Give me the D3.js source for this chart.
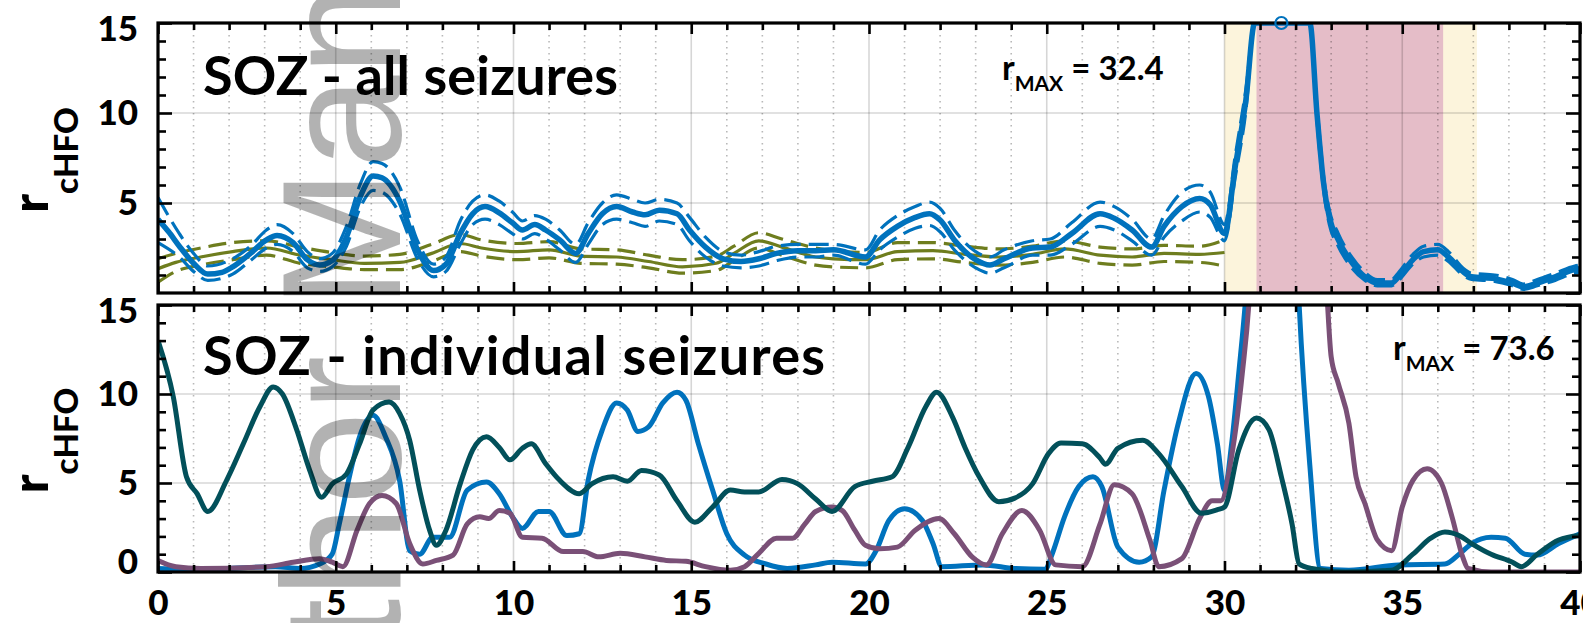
<!DOCTYPE html>
<html>
<head>
<meta charset="utf-8">
<script src="https://cdn.jsdelivr.net/npm/d3@7"></script>
<style>
  body { margin: 0; background: #fff; }
  svg { display: block; }
  text { font-family: Lato, "Open Sans", sans-serif; font-weight: bold; }
</style>
</head>
<body>
<svg id="chart" width="1583" height="623"></svg>
<script>
// ---- data (time in s, rate r_cHFO) ----
const xTicks = [0, 5, 10, 15, 20, 25, 30, 35, 40];
const yTicksTop = [5, 10, 15];
const yTicksBottom = [0, 5, 10, 15];

// top panel: SOZ mean over all seizures (blue) with CI, and reference (olive) with CI
const allMean = [[0,4.1],[0.3,3.4],[0.6,2.6],[1.0,1.65],[1.4,1.05],[1.8,1.15],[2.1,1.45],[2.6,2.2],[3.05,2.95],[3.35,3.2],[3.8,2.8],[4.2,1.85],[4.55,1.55],[4.9,1.8],[5.3,3.1],[5.7,5.4],[6.05,6.5],[6.3,6.4],[6.8,5.1],[7.3,2.4],[7.75,1.25],[8.1,1.6],[8.5,3.3],[8.85,4.4],[9.2,4.8],[9.6,4.45],[9.97,3.9],[10.25,3.5],[10.6,3.8],[10.9,3.5],[11.3,2.95],[11.75,2.2],[12.1,3.3],[12.5,4.4],[12.9,4.8],[13.35,4.5],[13.7,4.35],[14.1,4.6],[14.6,4.4],[14.95,3.5],[15.4,2.55],[15.9,1.9],[16.4,1.75],[16.9,1.9],[17.4,2.2],[18.0,2.35],[18.5,2.35],[19.0,2.4],[19.9,2.0],[20.3,2.95],[20.8,3.7],[21.3,4.2],[21.7,4.4],[22.0,4.05],[22.4,2.95],[23.0,1.85],[23.4,1.55],[23.8,1.9],[24.6,2.5],[25.1,2.55],[25.7,3.3],[26.5,4.4],[26.9,4.15],[27.4,3.5],[27.95,2.55],[28.3,3.7],[28.8,4.8],[29.3,5.25],[29.6,4.9],[30.0,3.3],[30.3,7.0],[30.6,10.7],[30.85,16],[31.2,24],[31.6,32.4],[32.0,26],[32.4,16],[32.6,10],[32.8,5.9],[32.95,4.2],[33.2,2.95],[33.6,1.65],[33.95,0.9],[34.3,0.55],[34.7,0.55],[34.9,0.9],[35.3,1.85],[35.6,2.3],[36.0,2.4],[36.3,2.0],[36.7,1.2],[36.95,0.9],[37.6,0.8],[38.1,0.55],[38.4,0.35],[38.8,0.55],[39.3,0.9],[39.85,1.3],[40,1.35]];
const allUpper = [[0,5.3],[0.6,3.3],[1.0,2.2],[1.4,1.5],[2.1,1.9],[2.6,2.6],[3.05,3.5],[3.35,3.8],[3.8,3.3],[4.2,2.3],[4.55,1.9],[4.9,2.2],[5.3,3.7],[5.7,6.1],[6.05,7.3],[6.3,7.2],[6.8,5.9],[7.3,2.9],[7.75,1.6],[8.1,2.0],[8.5,4.0],[8.85,5.1],[9.2,5.45],[9.6,5.1],[9.97,4.5],[10.25,4.0],[10.6,4.3],[10.9,4.1],[11.3,3.5],[11.75,2.7],[12.1,3.9],[12.5,5.0],[12.9,5.45],[13.35,5.2],[13.7,5.0],[14.1,5.2],[14.6,5.0],[14.95,4.2],[15.4,3.1],[15.9,2.3],[16.4,2.1],[16.9,2.3],[17.4,2.6],[18.0,2.7],[18.5,2.7],[19.0,2.7],[19.9,2.4],[20.3,3.5],[20.8,4.3],[21.3,4.8],[21.7,5.05],[22.0,4.7],[22.4,3.5],[23.0,2.3],[23.4,2.0],[23.8,2.4],[24.6,2.9],[25.1,3.0],[25.7,3.9],[26.5,5.05],[26.9,4.8],[27.4,4.1],[27.95,3.0],[28.3,4.3],[28.8,5.6],[29.3,6.0],[29.6,5.6],[30.0,3.8],[30.3,7.6],[30.6,11.3],[30.85,16],[31.6,33],[32.4,16],[32.6,10.4],[32.8,6.3],[32.95,4.6],[33.2,3.3],[33.6,1.95],[33.95,1.15],[34.3,0.75],[34.7,0.75],[34.9,1.15],[35.3,2.15],[35.6,2.6],[36.0,2.7],[36.3,2.3],[36.7,1.4],[36.95,1.1],[37.6,1.0],[38.1,0.75],[38.4,0.5],[38.8,0.75],[39.3,1.1],[39.85,1.5],[40,1.55]];
const allLower = [[0,2.8],[0.6,2.0],[1.0,1.2],[1.4,0.7],[2.1,1.05],[2.6,1.8],[3.05,2.5],[3.35,2.7],[3.8,2.3],[4.2,1.4],[4.55,1.2],[4.9,1.45],[5.3,2.6],[5.7,4.8],[6.05,5.7],[6.3,5.6],[6.8,4.4],[7.3,1.9],[7.75,0.9],[8.1,1.2],[8.5,2.7],[8.85,3.8],[9.2,4.1],[9.6,3.8],[9.97,3.3],[10.25,3.0],[10.6,3.3],[10.9,3.0],[11.3,2.4],[11.75,1.7],[12.1,2.7],[12.5,3.8],[12.9,4.1],[13.35,3.9],[13.7,3.7],[14.1,4.0],[14.6,3.8],[14.95,2.9],[15.4,2.0],[15.9,1.5],[16.4,1.4],[16.9,1.5],[17.4,1.8],[18.0,2.0],[18.5,2.0],[19.0,2.1],[19.9,1.6],[20.3,2.4],[20.8,3.1],[21.3,3.6],[21.7,3.75],[22.0,3.4],[22.4,2.4],[23.0,1.4],[23.4,1.1],[23.8,1.4],[24.6,2.1],[25.1,2.1],[25.7,2.7],[26.5,3.7],[26.9,3.5],[27.4,2.9],[27.95,2.1],[28.3,3.1],[28.8,4.0],[29.3,4.5],[29.6,4.2],[30.0,2.9],[30.3,6.4],[30.6,10.1],[30.85,16],[31.6,31],[32.4,15.5],[32.6,9.6],[32.8,5.5],[32.95,3.8],[33.2,2.6],[33.6,1.35],[33.95,0.7],[34.3,0.4],[34.7,0.4],[34.9,0.7],[35.3,1.6],[35.6,2.0],[36.0,2.1],[36.3,1.75],[36.7,1.0],[36.95,0.75],[37.6,0.65],[38.1,0.4],[38.4,0.2],[38.8,0.4],[39.3,0.7],[39.85,1.1],[40,1.15]];
const refMean = [[0,1.35],[0.5,1.7],[1.2,2.0],[2.1,2.3],[3.05,2.5],[4.0,2.1],[4.9,1.85],[5.8,1.65],[6.8,1.7],[7.7,2.2],[8.5,2.75],[9.1,2.5],[10.1,2.3],[11.0,2.4],[11.9,2.05],[12.9,2.0],[13.8,1.75],[14.75,1.45],[15.7,1.65],[16.2,2.2],[16.9,2.9],[17.55,2.55],[18.5,2.0],[19.0,1.9],[19.9,1.85],[20.8,2.3],[21.8,2.35],[22.7,2.15],[23.65,2.0],[24.6,2.15],[25.5,2.45],[26.5,2.1],[27.4,2.0],[28.3,2.2],[29.3,2.15],[30,2.25]];
const refUpper = [[0,1.9],[0.5,2.2],[1.2,2.5],[2.1,2.8],[3.05,2.9],[4.0,2.55],[4.9,2.25],[5.8,2.05],[6.8,2.15],[7.7,2.7],[8.5,3.25],[9.1,2.95],[10.1,2.75],[11.0,2.85],[11.9,2.45],[12.9,2.4],[13.8,2.1],[14.75,1.85],[15.7,2.05],[16.2,2.6],[16.9,3.35],[17.55,3.0],[18.5,2.5],[19.0,2.35],[19.9,2.25],[20.8,2.8],[21.8,2.8],[22.7,2.6],[23.65,2.45],[24.6,2.6],[25.5,2.9],[26.5,2.55],[27.4,2.45],[28.3,2.65],[29.3,2.6],[30,2.95]];
const refLower = [[0,0.6],[0.5,1.2],[1.2,1.55],[2.1,1.85],[3.05,2.1],[4.0,1.65],[4.9,1.45],[5.8,1.3],[6.8,1.3],[7.7,1.75],[8.5,2.3],[9.1,2.05],[10.1,1.85],[11.0,1.95],[11.9,1.65],[12.9,1.6],[13.8,1.4],[14.75,1.1],[15.7,1.25],[16.2,1.8],[16.9,2.5],[17.55,2.1],[18.5,1.55],[19.0,1.45],[19.9,1.4],[20.8,1.85],[21.8,1.9],[22.7,1.7],[23.65,1.55],[24.6,1.7],[25.5,2.0],[26.5,1.65],[27.4,1.55],[28.3,1.75],[29.3,1.7],[30,1.5]];
const allMaxPoint = [31.6, 32.4];
const yellowBand = [30, 37.1];
const pinkBand = [30.9, 36.15];

// bottom panel: individual seizures
const seizureA = [[0,0.2],[1.2,0.15],[3.3,0.3],[4.0,0.2],[4.55,0.45],[4.9,1.0],[5.1,2.7],[5.4,5.5],[5.67,7.6],[6.05,8.8],[6.4,7.6],[6.8,5.1],[7.08,1.2],[7.36,1.0],[7.73,1.95],[8.2,1.95],[8.7,4.6],[9.24,5.05],[9.6,4.4],[9.97,3.1],[10.25,2.45],[10.7,3.4],[11.0,3.4],[11.5,2.05],[11.85,2.15],[12.1,5.15],[12.5,8.0],[12.9,9.5],[13.2,9.1],[13.5,7.9],[13.8,8.15],[14.2,9.5],[14.6,10.1],[14.85,9.65],[15.2,7.2],[15.6,4.6],[16.0,2.15],[16.5,0.95],[17.1,0.45],[17.7,0.2],[18.5,0.4],[18.96,0.55],[19.9,0.45],[20.2,1.2],[20.56,2.9],[21.0,3.55],[21.5,2.9],[21.8,1.6],[22.05,0.3],[23.2,0.4],[24.1,0.2],[24.96,0.15],[25.15,1.0],[25.5,3.1],[25.9,4.8],[26.3,5.35],[26.55,4.8],[27.0,1.4],[27.6,0.55],[27.95,0.85],[28.3,4.6],[28.7,8.35],[29.2,11.15],[29.55,9.85],[29.8,7.2],[30.0,4.6],[30.2,7.2],[30.4,11.15],[30.6,15.5],[31.0,30],[31.4,40],[31.8,30],[32.1,15],[32.4,6],[32.7,0.2],[33.5,0.1],[34.9,0.4],[36.2,0.45],[36.6,1.0],[36.95,1.6],[37.5,1.95],[37.9,1.9],[38.45,1.0],[38.8,0.95],[39.4,1.6],[40,2.15]];
const seizureB = [[0,0.65],[0.5,0.3],[1.2,0.2],[3.05,0.3],[3.8,0.55],[4.55,0.75],[4.9,0.55],[5.2,0.3],[5.6,2.35],[5.95,3.85],[6.3,4.3],[6.7,3.85],[7.08,1.6],[7.45,0.45],[7.83,0.65],[8.3,0.95],[8.7,2.7],[9.05,3.1],[9.3,3.0],[9.6,3.45],[9.9,3.3],[10.25,1.95],[10.8,1.9],[11.4,1.15],[11.95,1.15],[12.4,0.85],[13.0,1.05],[13.7,0.85],[14.3,0.65],[14.85,0.6],[15.4,0.3],[16.1,0.1],[16.5,0.3],[16.9,1.05],[17.4,1.9],[17.85,1.9],[18.2,2.7],[18.5,3.4],[18.96,3.65],[19.25,3.45],[19.6,2.35],[19.9,1.5],[20.3,1.3],[20.8,1.4],[21.3,2.35],[21.97,3.0],[22.4,2.15],[22.9,0.85],[23.3,0.4],[23.75,2.15],[24.3,3.45],[24.8,2.35],[25.25,0.4],[26.0,0.3],[26.5,2.7],[26.9,4.9],[27.4,4.4],[27.9,1.8],[28.15,0.3],[28.8,0.75],[29.3,3.0],[29.65,4.0],[29.9,4.0],[30.2,6.5],[30.5,11.15],[30.7,15.5],[31.2,45],[31.8,73.6],[32.4,45],[32.9,15],[33.0,12.1],[33.2,10.6],[33.5,8.35],[33.7,5.35],[33.95,3.85],[34.3,1.8],[34.7,1.2],[35.0,3.65],[35.3,5.15],[35.7,5.8],[36.1,5.0],[36.4,3.1],[36.7,0.85],[36.85,0.2],[37.5,0],[40,0]];
const seizureC = [[0,13.0],[0.43,9.85],[0.8,5.35],[1.1,4.4],[1.4,3.4],[1.93,5.15],[2.4,7.2],[2.87,9.3],[3.24,10.4],[3.5,10.0],[3.9,8.0],[4.27,5.7],[4.6,4.2],[4.9,4.95],[5.3,5.5],[5.67,7.2],[6.05,9.1],[6.5,9.55],[6.8,8.9],[7.08,7.4],[7.36,4.6],[7.64,2.35],[7.83,1.5],[8.1,2.35],[8.5,4.95],[8.85,6.85],[9.24,7.6],[9.6,7.0],[9.9,6.3],[10.25,6.95],[10.5,7.2],[10.9,6.1],[11.3,5.15],[11.85,4.4],[12.2,4.95],[12.8,5.35],[13.2,5.1],[13.6,5.7],[14.1,5.45],[14.6,4.0],[15.1,2.8],[15.6,3.65],[16.1,4.6],[16.5,4.5],[16.9,4.5],[17.55,5.2],[18.0,4.95],[18.5,4.1],[18.96,3.4],[19.6,4.8],[20.1,5.1],[20.65,5.35],[21.1,7.0],[21.6,9.3],[21.9,10.1],[22.35,8.7],[22.7,7.0],[23.1,5.35],[23.65,3.95],[24.1,4.15],[24.6,4.95],[25.05,6.65],[25.4,7.25],[26.0,7.2],[26.5,6.4],[26.65,6.05],[27.0,6.95],[27.7,7.4],[28.15,6.65],[28.8,4.8],[29.35,3.3],[29.8,3.5],[30.0,3.65],[30.4,6.85],[30.9,8.65],[31.25,8.0],[31.6,5.35],[31.9,2.7],[32.1,0.45],[32.45,0.2],[33.4,0],[34.7,0.1],[35.3,1.0],[35.8,1.9],[36.2,2.25],[36.6,2.05],[36.95,1.6],[37.5,1.0],[38.1,0.55],[38.35,0.3],[38.8,1.0],[39.4,1.8],[40,2.05]];

const topTitle = 'SOZ - all seizures';
const bottomTitle = 'SOZ - individual seizures';
const topMax = '32.4';
const bottomMax = '73.6';

// ---- layout ----
const svg = d3.select('#chart');
const left = 158, right = 1580;
const x = d3.scaleLinear().domain([0, 40]).range([left, right]);
const yTop = d3.scaleLinear().domain([0, 15]).range([293, 23]);
const yBot = d3.scaleLinear().domain([0, 15]).range([572, 305]);

const blue = '#0072bd', olive = '#6e7d1e', teal = '#02505a', purple = '#7a5077';
const minorX = d3.range(0, 41).filter(d => d % 5 !== 0);
const minorY = d3.range(0, 16).filter(d => d % 5 !== 0);
const fontFam = 'Lato, "Open Sans", sans-serif';

function styleAxis(a) {
    a.select('.domain').remove();
    a.selectAll('line').attr('stroke', '#000').attr('stroke-width', 2.6);
    a.selectAll('text').attr('font-size', 35).attr('fill', '#000')
        .style('font-family', fontFam).style('font-weight', 900);
    return a;
}

function panel(y, id, yLabels, xLabels) {
    const g = svg.append('g');
    const [y0, y1] = y.range();

    svg.append('clipPath').attr('id', id)
        .append('rect').attr('x', left).attr('y', y1).attr('width', right - left).attr('height', y0 - y1);

    const back = g.append('g');
    const grid = g.append('g');
    grid.selectAll('.minor').data(minorX).enter().append('line')
        .attr('x1', d => x(d)).attr('x2', d => x(d)).attr('y1', y1).attr('y2', y0)
        .attr('stroke', '#000').attr('stroke-opacity', 0.28).attr('stroke-width', 1.6)
        .attr('stroke-dasharray', '1.6,4.4');
    grid.selectAll('.majx').data(xTicks.slice(1, -1)).enter().append('line')
        .attr('x1', d => x(d)).attr('x2', d => x(d)).attr('y1', y1).attr('y2', y0)
        .attr('stroke', '#000').attr('stroke-opacity', 0.16).attr('stroke-width', 1.6);
    grid.selectAll('.majy').data([5, 10]).enter().append('line')
        .attr('x1', left).attr('x2', right).attr('y1', d => y(d)).attr('y2', d => y(d))
        .attr('stroke', '#000').attr('stroke-opacity', 0.16).attr('stroke-width', 1.6);

    const lines = g.append('g').attr('clip-path', `url(#${id})`);

    // axes: inward ticks, major and minor
    const axes = g.append('g');
    const addAxis = (axis, tx, ty) =>
        styleAxis(axes.append('g').attr('transform', `translate(${tx},${ty})`).call(axis));
    addAxis(d3.axisBottom(x).tickValues(minorX).tickSize(-7).tickFormat(''), 0, y0);
    addAxis(d3.axisTop(x).tickValues(minorX).tickSize(-7).tickFormat(''), 0, y1);
    addAxis(d3.axisTop(x).tickValues(xTicks).tickSize(-11).tickFormat(''), 0, y1);
    const xa = d3.axisBottom(x).tickValues(xTicks).tickSize(-11).tickPadding(18);
    if (!xLabels) xa.tickFormat('');
    addAxis(xa, 0, y0);
    addAxis(d3.axisLeft(y).tickValues(minorY).tickSize(-8).tickFormat(''), left, 0);
    addAxis(d3.axisRight(y).tickValues(minorY).tickSize(-8).tickFormat(''), right, 0);
    addAxis(d3.axisRight(y).tickValues([0, 5, 10, 15]).tickSize(-14).tickFormat(''), right, 0);
    const yl = addAxis(d3.axisLeft(y).tickValues(yLabels).tickSize(-14).tickPadding(20), left, 0);
    yl.selectAll('.tick text').attr('dy', d => d === 15 ? '0.5em' : (d === 0 ? '0.03em' : '0.34em'));

    axes.append('rect').attr('x', left).attr('y', y1).attr('width', right - left).attr('height', y0 - y1)
        .attr('fill', 'none').attr('stroke', '#000').attr('stroke-width', 3.2);

    // y label
    const lab = axes.append('text')
        .attr('transform', `translate(48,${(y0 + y1) / 2 + 2}) rotate(-90)`)
        .attr('text-anchor', 'middle').style('font-weight', 900);
    lab.append('tspan').attr('font-size', 50).text('r');
    lab.append('tspan').attr('font-size', 33).attr('dy', 30).text('cHFO');

    return { g, back, lines, y0, y1 };
}

const makeLine = y => d3.line().x(d => x(d[0])).y(d => y(d[1])).curve(d3.curveMonotoneX);

// ---- top panel ----
const topPanel = panel(yTop, 'clipTop', yTicksTop, false);
topPanel.back.append('rect').attr('x', x(yellowBand[0])).attr('width', x(yellowBand[1]) - x(yellowBand[0]))
    .attr('y', topPanel.y1).attr('height', topPanel.y0 - topPanel.y1).attr('fill', '#fcf4dc');
topPanel.back.append('rect').attr('x', x(pinkBand[0])).attr('width', x(pinkBand[1]) - x(pinkBand[0]))
    .attr('y', topPanel.y1).attr('height', topPanel.y0 - topPanel.y1).attr('fill', '#e5bdc8');

const clampTop = s => s.map(d => [d[0], Math.min(d[1], 15)]);
const topLine = makeLine(yTop);
[[refUpper, olive, 3.2, '18,8'], [refLower, olive, 3.2, '18,8'], [refMean, olive, 3.2, null],
 [allUpper, blue, 3.2, '20,8'], [allLower, blue, 3.2, '20,8'], [allMean, blue, 5.5, null]]
    .forEach(([s, c, w, dash]) => {
        topPanel.lines.append('path').attr('d', topLine(clampTop(s)))
            .attr('fill', 'none').attr('stroke', c).attr('stroke-width', w)
            .attr('stroke-dasharray', dash).attr('stroke-linejoin', 'round');
    });
topPanel.g.append('circle').attr('cx', x(allMaxPoint[0])).attr('cy', yTop(Math.min(allMaxPoint[1], 15)))
    .attr('r', 6).attr('fill', 'none').attr('stroke', blue).attr('stroke-width', 2.2);

// ---- bottom panel ----
const botPanel = panel(yBot, 'clipBot', yTicksBottom, true);
const botLine = makeLine(yBot);
[[seizureA, blue], [seizureB, purple], [seizureC, teal]].forEach(([s, c]) => {
    botPanel.lines.append('path').attr('d', botLine(s))
        .attr('fill', 'none').attr('stroke', c).attr('stroke-width', 5).attr('stroke-linejoin', 'round');
});

// ---- titles ----
svg.append('text').attr('x', 203).attr('y', 95).attr('font-size', 54)
    .attr('textLength', 415).attr('lengthAdjust', 'spacing').text(topTitle);
svg.append('text').attr('x', 203).attr('y', 375).attr('font-size', 54)
    .attr('textLength', 622).attr('lengthAdjust', 'spacing').text(bottomTitle);

function maxLabel(xp, yp, val) {
    const t = svg.append('text').attr('x', xp).attr('y', yp);
    t.append('tspan').attr('font-size', 34).text('r');
    t.append('tspan').attr('font-size', 21).attr('dy', 11).text('MAX');
    t.append('tspan').attr('font-size', 33).attr('dy', -11).text(' = ' + val);
}
maxLabel(1002, 80, topMax);
maxLabel(1393, 360, bottomMax);

// ---- watermark ----
const wmFont = '"Liberation Sans", Arial, sans-serif';
const wm = svg.append('text')
    .attr('font-size', 168).style('font-family', wmFont)
    .style('font-weight', 'normal').attr('fill', '#000').attr('fill-opacity', 0.3)
    .text('Author Manuscript');
const probe = svg.append('text').attr('font-size', 168)
    .style('font-family', wmFont).style('font-weight', 'normal')
    .text('Author\u00a0');
const prefix = probe.node().getComputedTextLength();
probe.remove();
wm.attr('transform', `translate(400,${309 + prefix}) rotate(-90)`);
</script>
</body>
</html>
